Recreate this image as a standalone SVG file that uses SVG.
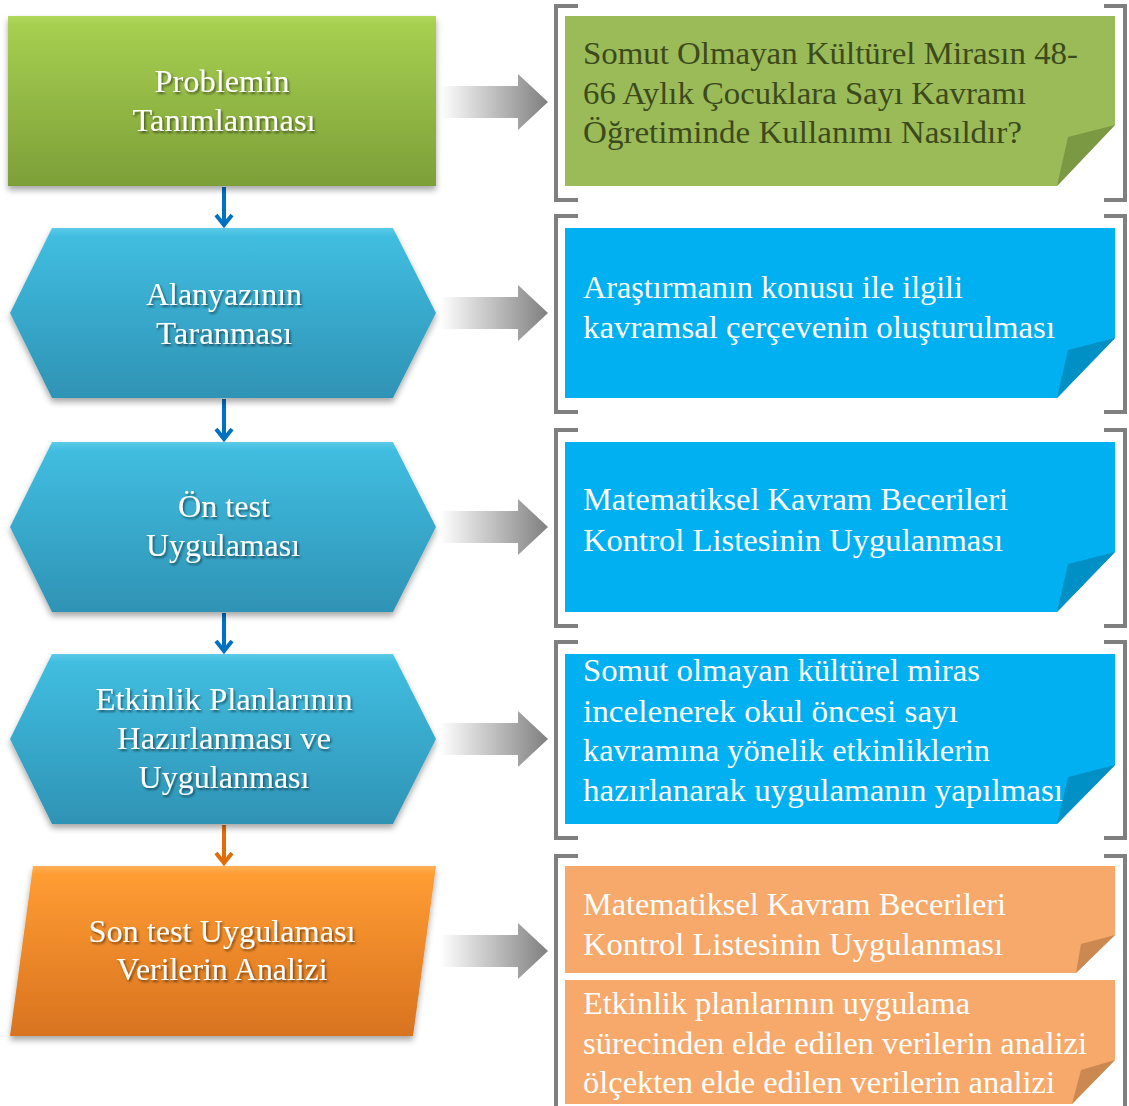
<svg xmlns="http://www.w3.org/2000/svg" width="1129" height="1106" viewBox="0 0 1129 1106">
<defs>
<linearGradient id="gGreen" x1="0" y1="0" x2="0" y2="1">
<stop offset="0" stop-color="#b0d85a"/><stop offset="0.05" stop-color="#a6cf50"/><stop offset="1" stop-color="#7d9f38"/>
</linearGradient>
<linearGradient id="gBlue" x1="0" y1="0" x2="0" y2="1">
<stop offset="0" stop-color="#5ccbe8"/><stop offset="0.05" stop-color="#40bde0"/><stop offset="1" stop-color="#2f93b5"/>
</linearGradient>
<linearGradient id="gOrange" x1="0" y1="0" x2="0" y2="1">
<stop offset="0" stop-color="#ffb056"/><stop offset="0.05" stop-color="#ff9c33"/><stop offset="1" stop-color="#d8731f"/>
</linearGradient>
<linearGradient id="gArrow" x1="0" y1="0" x2="1" y2="0">
<stop offset="0" stop-color="#ffffff"/><stop offset="1" stop-color="#7f7f7f"/>
</linearGradient>
<filter id="shadow" x="-10%" y="-10%" width="120%" height="130%">
<feDropShadow dx="0" dy="4" stdDeviation="3" flood-color="#000" flood-opacity="0.35"/>
</filter>
<filter id="tshadow" x="-10%" y="-30%" width="120%" height="160%">
<feDropShadow dx="1.5" dy="2" stdDeviation="1" flood-color="#000" flood-opacity="0.5"/>
</filter>
<path id="arrowShape" d="M440,-16 H518 V-28 L548,0 L518,28 V16 H440 Z"/>
</defs>
<style>
.node text{font-family:"Liberation Serif","Times New Roman",serif;font-size:32px;fill:#ffffff;text-anchor:middle}
.note text{font-family:"Liberation Serif","Times New Roman",serif;font-size:32px;fill:#ffffff}
.note.green text{fill:#3c4a1c}
.bracket{fill:none;stroke:#7f7f7f;stroke-width:4}
.blue{fill:#00b0f0}.blueFold{fill:#0090c6}
.orange{fill:#f6a96a}.orangeFold{fill:#cb8850}
.arrow{fill:url(#gArrow)}
.down{stroke-width:4;fill:none}
</style>
<rect width="1129" height="1106" fill="#ffffff"/>

<g id="connectors">
<use href="#arrowShape" class="arrow" transform="translate(0,102)"/>
<use href="#arrowShape" class="arrow" transform="translate(0,313)"/>
<use href="#arrowShape" class="arrow" transform="translate(0,527)"/>
<use href="#arrowShape" class="arrow" transform="translate(0,739)"/>
<use href="#arrowShape" class="arrow" transform="translate(0,951)"/>
<g stroke="#0070c0" class="down">
<path d="M224,187 V224"/><path d="M216,215 L224,225 L232,215"/>
<path d="M224,399 V438"/><path d="M216,429 L224,439 L232,429"/>
<path d="M224,613 V650"/><path d="M216,641 L224,651 L232,641"/>
</g>
<g stroke="#e36c09" class="down">
<path d="M224,825 V862"/><path d="M216,853 L224,863 L232,853"/>
</g>
</g>

<g id="node1" class="node">
<rect x="8" y="16" width="428" height="170" fill="url(#gGreen)" filter="url(#shadow)"/>
<g filter="url(#tshadow)">
<text x="222" y="92" textLength="135" lengthAdjust="spacingAndGlyphs">Problemin</text>
<text x="224" y="131" textLength="183" lengthAdjust="spacingAndGlyphs">Tanımlanması</text>
</g>
</g>

<g id="node2" class="node">
<polygon points="10,313 52,228 393,228 436,313 393,398 52,398" fill="url(#gBlue)" filter="url(#shadow)"/>
<g filter="url(#tshadow)">
<text x="224" y="305" textLength="156" lengthAdjust="spacingAndGlyphs">Alanyazının</text>
<text x="224" y="344" textLength="136" lengthAdjust="spacingAndGlyphs">Taranması</text>
</g>
</g>

<g id="node3" class="node">
<polygon points="10,527 52,442 393,442 436,527 393,612 52,612" fill="url(#gBlue)" filter="url(#shadow)"/>
<g filter="url(#tshadow)">
<text x="224" y="517" textLength="92" lengthAdjust="spacingAndGlyphs">Ön test</text>
<text x="223" y="556" textLength="154" lengthAdjust="spacingAndGlyphs">Uygulaması</text>
</g>
</g>

<g id="node4" class="node">
<polygon points="10,739 52,654 393,654 436,739 393,824 52,824" fill="url(#gBlue)" filter="url(#shadow)"/>
<g filter="url(#tshadow)">
<text x="224" y="710" textLength="257" lengthAdjust="spacingAndGlyphs">Etkinlik  Planlarının</text>
<text x="224" y="749" textLength="214" lengthAdjust="spacingAndGlyphs">Hazırlanması ve</text>
<text x="224" y="788" textLength="171" lengthAdjust="spacingAndGlyphs">Uygulanması</text>
</g>
</g>

<g id="node5" class="node">
<polygon points="33,866 436,866 413,1036 10,1036" fill="url(#gOrange)" filter="url(#shadow)"/>
<g filter="url(#tshadow)">
<text x="222" y="942" textLength="267" lengthAdjust="spacingAndGlyphs">Son test Uygulaması</text>
<text x="222" y="980" textLength="211" lengthAdjust="spacingAndGlyphs">Verilerin  Analizi</text>
</g>
</g>

<g id="note1" class="note green">
<path class="bracket" d="M578,6 H556 V200 H578 M1104,6 H1125 V200 H1104"/>
<polygon points="565,16 1115,16 1115,125 1057,186 565,186" fill="#9bbb59"/>
<polygon points="1115,125 1068,137 1057,186" fill="#7b9843"/>
<text x="583" y="64" textLength="495" lengthAdjust="spacingAndGlyphs">Somut Olmayan  Kültürel  Mirasın 48-</text>
<text x="583" y="104" textLength="443" lengthAdjust="spacingAndGlyphs">66 Aylık  Çocuklara Sayı Kavramı</text>
<text x="583" y="143" textLength="439" lengthAdjust="spacingAndGlyphs">Öğretiminde  Kullanımı  Nasıldır?</text>
</g>

<g id="note2" class="note">
<path class="bracket" d="M578,216 H556 V412 H578 M1104,216 H1125 V412 H1104"/>
<polygon points="565,228 1115,228 1115,338 1057,398 565,398" class="blue"/>
<polygon points="1115,338 1068,350 1057,398" class="blueFold"/>
<text x="583" y="298" textLength="380" lengthAdjust="spacingAndGlyphs">Araştırmanın konusu ile ilgili</text>
<text x="583" y="338" textLength="472" lengthAdjust="spacingAndGlyphs">kavramsal çerçevenin oluşturulması</text>
</g>

<g id="note3" class="note">
<path class="bracket" d="M578,430 H556 V626 H578 M1104,430 H1125 V626 H1104"/>
<polygon points="565,442 1115,442 1115,552 1057,612 565,612" class="blue"/>
<polygon points="1115,552 1068,564 1057,612" class="blueFold"/>
<text x="583" y="510" textLength="425" lengthAdjust="spacingAndGlyphs">Matematiksel  Kavram Becerileri</text>
<text x="583" y="551" textLength="420" lengthAdjust="spacingAndGlyphs">Kontrol Listesinin  Uygulanması</text>
</g>

<g id="note4" class="note">
<path class="bracket" d="M578,642 H556 V838 H578 M1104,642 H1125 V838 H1104"/>
<polygon points="565,654 1115,654 1115,765 1057,824 565,824" class="blue"/>
<polygon points="1115,765 1068,777 1057,824" class="blueFold"/>
<text x="583" y="681" textLength="397" lengthAdjust="spacingAndGlyphs">Somut olmayan kültürel  miras</text>
<text x="583" y="722" textLength="375" lengthAdjust="spacingAndGlyphs">incelenerek  okul öncesi sayı</text>
<text x="583" y="761" textLength="407" lengthAdjust="spacingAndGlyphs">kavramına yönelik  etkinliklerin</text>
<text x="583" y="801" textLength="480" lengthAdjust="spacingAndGlyphs">hazırlanarak  uygulamanın  yapılması</text>
</g>

<g id="note5" class="note">
<path class="bracket" d="M578,856 H556 V1112 M1104,856 H1125 V1112"/>
<polygon points="565,866 1115,866 1115,935 1076,973 565,973" class="orange"/>
<polygon points="1115,935 1081,944 1076,973" class="orangeFold"/>
<polygon points="565,980 1115,980 1115,1060 1072,1104 565,1104" class="orange"/>
<polygon points="1115,1060 1081,1070 1072,1104" class="orangeFold"/>
<text x="583" y="915" textLength="423" lengthAdjust="spacingAndGlyphs">Matematiksel  Kavram  Becerileri</text>
<text x="583" y="955" textLength="420" lengthAdjust="spacingAndGlyphs">Kontrol Listesinin  Uygulanması</text>
<text x="583" y="1014" textLength="387" lengthAdjust="spacingAndGlyphs">Etkinlik  planlarının uygulama</text>
<text x="583" y="1054" textLength="504" lengthAdjust="spacingAndGlyphs">sürecinden elde edilen  verilerin  analizi</text>
<text x="583" y="1093" textLength="472" lengthAdjust="spacingAndGlyphs">ölçekten elde edilen  verilerin  analizi</text>
</g>
</svg>
